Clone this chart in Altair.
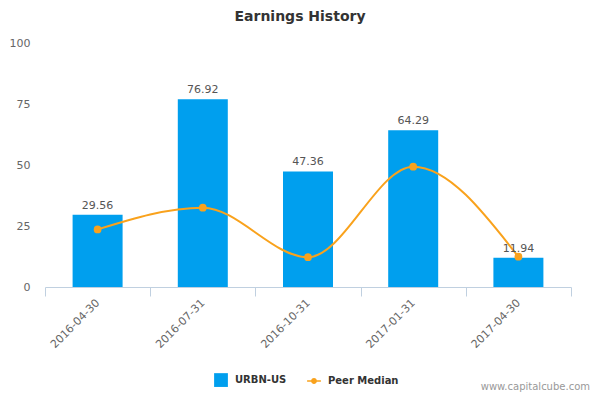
import pandas as pd
import altair as alt

# values
dates = ["2016-04-30", "2016-07-31", "2016-10-31", "2017-01-31", "2017-04-30"]
urbn = [29.56, 76.92, 47.36, 64.29, 11.94]
peer_median = [23.6, 32.5, 12.2, 49.3, 12.4]
series_names = ["URBN-US", "Peer Median"]
series_colours = ["#009fee", "#f9a21c"]

FONT = "DejaVu Sans"

bars_df = pd.DataFrame({"date": dates, "value": urbn, "series": series_names[0]})
peer_df = pd.DataFrame({"date": dates, "value": peer_median, "series": series_names[1]})

# legend symbol for the peer series: short line with a dot on it
line_dot = ("M-1,-0.1 L1,-0.1 L1,0.1 L-1,0.1 Z "
            "M0.42,0 A0.42,0.42 0 1,1 -0.42,0 A0.42,0.42 0 1,1 0.42,0 Z")

x_enc = alt.X("date:N", sort=dates, title=None,
              scale=alt.Scale(paddingInner=0, paddingOuter=0),
              axis=alt.Axis(labelAngle=-45, labelAlign="right", labelBaseline="middle",
                            labelColor="#666666", labelFontSize=11, labelPadding=5,
                            domainColor="#c0d0e0", tickColor="#c0d0e0", tickSize=9,
                            tickBand="extent", labelFont=FONT))
y_enc = alt.Y("value:Q", title=None,
              scale=alt.Scale(domain=[0, 100], nice=False),
              axis=alt.Axis(values=[0, 25, 50, 75, 100], grid=False, domain=False,
                            ticks=False, labelColor="#666666", labelFontSize=11,
                            labelPadding=15, labelFont=FONT))
colour = alt.Color("series:N", title=None,
                   scale=alt.Scale(domain=series_names, range=series_colours),
                   legend=alt.Legend(orient="none", legendX=169, legendY=330,
                                     direction="horizontal", labelFontWeight="bold",
                                     labelColor="#333333", labelFontSize=10,
                                     labelFont=FONT, symbolSize=190, columnPadding=20,
                                     labelOffset=7, symbolStrokeWidth=0))
shape = alt.Shape("series:N", title=None,
                  scale=alt.Scale(domain=series_names, range=["square", line_dot]))

bars = alt.Chart(bars_df).mark_bar(size=50).encode(x=x_enc, y=y_enc, color=colour)

bar_labels = alt.Chart(bars_df).mark_text(
    baseline="bottom", dy=-4, fontSize=11, color="#555555", font=FONT
).encode(x=alt.X("date:N", sort=dates), y="value:Q", text=alt.Text("value:Q", format=".2f"))

peer_line = alt.Chart(peer_df).mark_line(
    interpolate="monotone", strokeWidth=2, color=series_colours[1]
).encode(x=alt.X("date:N", sort=dates), y="value:Q")

# tiny points that only carry the legend entry
peer_key = alt.Chart(peer_df).mark_point(
    filled=True, size=1, opacity=1
).encode(x=alt.X("date:N", sort=dates), y="value:Q", color=colour, shape=shape)

peer_points = alt.Chart(peer_df).mark_circle(
    size=60, opacity=1, color=series_colours[1]
).encode(x=alt.X("date:N", sort=dates), y="value:Q")

credit = alt.Chart(pd.DataFrame({"t": ["www.capitalcube.com"]})).mark_text(
    align="right", baseline="middle", fontSize=10, color="#999999", font=FONT
).encode(x=alt.value(545), y=alt.value(344), text="t:N")

chart = alt.layer(bars, peer_line, peer_key, peer_points, bar_labels, credit).properties(
    width=526,
    height=244,
    autosize=alt.AutoSizeParams(type="none"),
    padding={"left": 37, "top": 35, "right": 21, "bottom": 105},
    title=alt.Title("Earnings History", fontSize=14, fontWeight="bold", color="#333333",
                    font=FONT, anchor="middle", dx=-8, offset=13),
).configure_view(stroke=None)

chart.save("out.html", embed_options={"renderer": "svg", "actions": False})
